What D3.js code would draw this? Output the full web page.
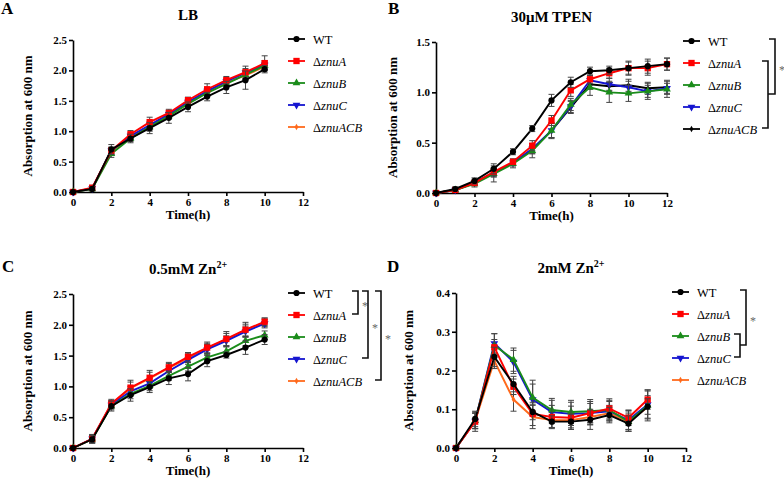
<!DOCTYPE html>
<html>
<head>
<meta charset="utf-8">
<script src="https://cdn.jsdelivr.net/npm/d3@7"></script>
<style>
  body { margin: 0; background: #fff; }
  svg text { font-family: "Times New Roman", "Liberation Serif", "DejaVu Serif", serif !important; }
</style>
</head>
<body>
<svg id="fig" width="784" height="485" font-family="Liberation Serif, serif"></svg>
<script>
// strains and colours
var strains = ["WT", "ΔznuA", "ΔznuB", "ΔznuC", "ΔznuACB"];
var hours10 = [0, 1, 2, 3, 4, 5, 6, 7, 8, 9, 10];
var hours12 = [0, 1, 2, 3, 4, 5, 6, 7, 8, 9, 10, 11, 12];
var xTicks = [0, 2, 4, 6, 8, 10, 12];

// A: LB
var lbWT   = [0.00, 0.05, 0.70, 0.88, 1.05, 1.22, 1.40, 1.57, 1.72, 1.84, 2.02];
var lbA    = [0.00, 0.07, 0.68, 0.95, 1.15, 1.30, 1.51, 1.69, 1.84, 1.97, 2.12];
var lbB    = [0.00, 0.05, 0.63, 0.88, 1.07, 1.25, 1.45, 1.63, 1.78, 1.93, 2.08];
var lbC    = [0.00, 0.06, 0.68, 0.92, 1.10, 1.28, 1.48, 1.66, 1.82, 1.96, 2.09];
var lbACB  = [0.00, 0.06, 0.67, 0.90, 1.08, 1.26, 1.47, 1.64, 1.80, 1.92, 2.06];
var lbWTErr  = [0.01, 0.03, 0.08, 0.07, 0.09, 0.09, 0.08, 0.07, 0.10, 0.15, 0.06];
var lbAErr   = [0.01, 0.04, 0.06, 0.06, 0.08, 0.06, 0.05, 0.09, 0.06, 0.10, 0.12];
var lbBErr   = [0.01, 0.03, 0.06, 0.05, 0.07, 0.05, 0.05, 0.06, 0.05, 0.07, 0.06];
var lbCErr   = [0.01, 0.03, 0.05, 0.05, 0.06, 0.05, 0.05, 0.06, 0.05, 0.07, 0.07];
var lbACBErr = [0.01, 0.03, 0.05, 0.05, 0.06, 0.05, 0.05, 0.06, 0.05, 0.07, 0.07];

// B: 30uM TPEN
var tpWT   = [0.00, 0.04, 0.12, 0.24, 0.41, 0.64, 0.92, 1.10, 1.21, 1.22, 1.24, 1.26, 1.28];
var tpA    = [0.00, 0.03, 0.10, 0.21, 0.31, 0.47, 0.72, 1.02, 1.13, 1.19, 1.24, 1.24, 1.28];
var tpB    = [0.00, 0.03, 0.09, 0.19, 0.29, 0.42, 0.62, 0.88, 1.05, 1.00, 0.99, 1.01, 1.03];
var tpC    = [0.00, 0.03, 0.10, 0.20, 0.30, 0.44, 0.62, 0.86, 1.12, 1.08, 1.05, 1.01, 1.04];
var tpACB  = [0.00, 0.03, 0.10, 0.20, 0.30, 0.43, 0.62, 0.85, 1.08, 1.06, 1.07, 1.04, 1.05];
var tpWTErr  = [0.00, 0.02, 0.03, 0.05, 0.03, 0.03, 0.06, 0.05, 0.04, 0.04, 0.06, 0.07, 0.06];
var tpAErr   = [0.00, 0.02, 0.02, 0.04, 0.03, 0.05, 0.05, 0.06, 0.04, 0.05, 0.07, 0.07, 0.06];
var tpBErr   = [0.00, 0.02, 0.03, 0.08, 0.04, 0.07, 0.07, 0.06, 0.08, 0.10, 0.08, 0.08, 0.08];
var tpCErr   = [0.00, 0.02, 0.02, 0.04, 0.03, 0.05, 0.08, 0.06, 0.05, 0.06, 0.06, 0.06, 0.05];
var tpACBErr = [0.00, 0.02, 0.02, 0.04, 0.03, 0.04, 0.07, 0.06, 0.05, 0.05, 0.06, 0.06, 0.07];

// C: 0.5mM Zn2+
var z05WT  = [0.00, 0.14, 0.68, 0.86, 0.99, 1.13, 1.20, 1.41, 1.51, 1.63, 1.76];
var z05A   = [0.00, 0.15, 0.72, 0.98, 1.14, 1.31, 1.48, 1.63, 1.77, 1.92, 2.05];
var z05B   = [0.00, 0.14, 0.68, 0.88, 1.01, 1.17, 1.32, 1.47, 1.57, 1.74, 1.83];
var z05C   = [0.00, 0.15, 0.70, 0.92, 1.05, 1.25, 1.43, 1.60, 1.74, 1.89, 2.02];
var z05ACB = [0.00, 0.15, 0.71, 0.97, 1.13, 1.30, 1.46, 1.62, 1.76, 1.91, 2.04];
var z05WTErr  = [0.00, 0.06, 0.08, 0.10, 0.09, 0.10, 0.11, 0.09, 0.05, 0.11, 0.08];
var z05AErr   = [0.00, 0.07, 0.07, 0.12, 0.12, 0.08, 0.07, 0.09, 0.12, 0.12, 0.06];
var z05BErr   = [0.00, 0.06, 0.06, 0.08, 0.08, 0.07, 0.07, 0.07, 0.07, 0.08, 0.07];
var z05CErr   = [0.00, 0.06, 0.06, 0.08, 0.08, 0.07, 0.07, 0.08, 0.08, 0.09, 0.07];
var z05ACBErr = [0.00, 0.06, 0.06, 0.10, 0.10, 0.07, 0.07, 0.08, 0.10, 0.10, 0.07];

// D: 2mM Zn2+
var z2WT  = [0.000, 0.075, 0.235, 0.165, 0.093, 0.068, 0.068, 0.073, 0.085, 0.063, 0.107];
var z2A   = [0.000, 0.068, 0.260, 0.158, 0.088, 0.080, 0.078, 0.090, 0.102, 0.078, 0.125];
var z2B   = [0.000, 0.070, 0.265, 0.228, 0.130, 0.098, 0.093, 0.095, 0.098, 0.068, 0.110];
var z2C   = [0.000, 0.070, 0.270, 0.222, 0.125, 0.093, 0.088, 0.090, 0.095, 0.072, 0.112];
var z2ACB = [0.000, 0.070, 0.225, 0.125, 0.080, 0.072, 0.072, 0.080, 0.090, 0.068, 0.105];
var z2WTErr  = [0.000, 0.020, 0.025, 0.020, 0.020, 0.015, 0.020, 0.025, 0.020, 0.020, 0.020];
var z2AErr   = [0.000, 0.025, 0.020, 0.020, 0.030, 0.030, 0.030, 0.025, 0.025, 0.020, 0.025];
var z2BErr   = [0.000, 0.020, 0.030, 0.030, 0.045, 0.030, 0.030, 0.030, 0.025, 0.025, 0.040];
var z2CErr   = [0.000, 0.020, 0.025, 0.030, 0.040, 0.030, 0.030, 0.030, 0.025, 0.025, 0.035];
var z2ACBErr = [0.000, 0.020, 0.020, 0.030, 0.030, 0.020, 0.020, 0.020, 0.020, 0.020, 0.030];

var colors = ["#000000", "#ff0000", "#1a8c1a", "#1515d0", "#ff6a1c"];
var colorsB = ["#000000", "#ff0000", "#1a8c1a", "#1515d0", "#000000"];
var symbols = [
    { type: d3.symbolCircle, size: 30, rot: 0 },
    { type: d3.symbolSquare, size: 40, rot: 0 },
    { type: d3.symbolTriangle, size: 26, rot: 0 },
    { type: d3.symbolTriangle, size: 26, rot: 180 },
    { type: d3.symbolDiamond, size: 12, rot: 0 }
];

var svg = d3.select("#fig");
var rowGap = 22;
var serif = "'Times New Roman', 'Liberation Serif', serif";

var panels = [
    { letter: "A", lx: 1, ly: 14, title: "LB", sup: "", x0: 73, x1: 303, y0: 192, y1: 40,
      yMax: 2.5, yTicks: [0, 0.5, 1.0, 1.5, 2.0, 2.5], fmt: ".1f", hours: hours10,
      values: [lbWT, lbA, lbB, lbC, lbACB], errs: [lbWTErr, lbAErr, lbBErr, lbCErr, lbACBErr],
      colors: colors, legX: 288, labelOff: 41, brackets: [] },
    { letter: "B", lx: 388, ly: 14, title: "30μM TPEN", sup: "", x0: 436, x1: 667, y0: 193, y1: 42,
      yMax: 1.5, yTicks: [0, 0.5, 1.0, 1.5], fmt: ".1f", hours: hours12,
      values: [tpWT, tpA, tpB, tpC, tpACB], errs: [tpWTErr, tpAErr, tpBErr, tpCErr, tpACBErr],
      colors: colorsB, legX: 683, labelOff: 39,
      brackets: [
        { from: 1, to: 4, x: 768, star: false },
        { from: 0, toMid: [1, 4], x: 775, innerX: 768, star: true }
      ] },
    { letter: "C", lx: 2, ly: 272, title: "0.5mM Zn", sup: "2+", x0: 73, x1: 303, y0: 448, y1: 294,
      yMax: 2.5, yTicks: [0, 0.5, 1.0, 1.5, 2.0, 2.5], fmt: ".1f", hours: hours10,
      values: [z05WT, z05A, z05B, z05C, z05ACB], errs: [z05WTErr, z05AErr, z05BErr, z05CErr, z05ACBErr],
      colors: colors, legX: 288, labelOff: 41,
      brackets: [
        { from: 0, to: 1, x: 358, star: true },
        { from: 0, to: 3, x: 368, star: true },
        { from: 0, to: 4, x: 381, star: true }
      ] },
    { letter: "D", lx: 387, ly: 272, title: "2mM Zn", sup: "2+", x0: 456, x1: 686, y0: 448, y1: 293,
      yMax: 0.4, yTicks: [0, 0.1, 0.2, 0.3, 0.4], fmt: ".1f", hours: hours10,
      values: [z2WT, z2A, z2B, z2C, z2ACB], errs: [z2WTErr, z2AErr, z2BErr, z2CErr, z2ACBErr],
      colors: colors, legX: 672, labelOff: 43,
      brackets: [
        { from: 2, to: 3, x: 740, star: false },
        { from: 0, toMid: [2, 3], x: 746, innerX: 740, star: true }
      ] }
];

panels.forEach(drawPanel);

function drawPanel(p) {
    var g = svg.append("g");
    var xScale = d3.scaleLinear().domain([0, 12]).range([p.x0, p.x1]);
    var yScale = d3.scaleLinear().domain([0, p.yMax]).range([p.y0, p.y1]);

    // panel letter
    g.append("text")
        .attr("x", p.lx).attr("y", p.ly)
        .style("font-family", serif)
        .style("font-size", "17px").style("font-weight", "bold")
        .text(p.letter);

    // title
    var t = g.append("text")
        .attr("x", (p.x0 + p.x1) / 2).attr("y", p.y1 - 20)
        .attr("text-anchor", "middle")
        .style("font-family", serif)
        .style("font-size", "15px").style("font-weight", "bold")
        .text(p.title);
    if (p.sup) {
        t.append("tspan").attr("dy", "-6").style("font-size", "10px").text(p.sup);
    }

    // axes
    var xAxis = g.append("g")
        .attr("transform", "translate(0," + p.y0 + ")")
        .call(d3.axisBottom(xScale).tickValues(xTicks).tickSize(4).tickSizeOuter(0).tickPadding(2));
    var yAxis = g.append("g")
        .attr("transform", "translate(" + p.x0 + ",0)")
        .call(d3.axisLeft(yScale).tickValues(p.yTicks).tickFormat(d3.format(p.fmt))
            .tickSize(4).tickSizeOuter(0).tickPadding(2));
    [xAxis, yAxis].forEach(function(a) {
        a.attr("font-family", null);
        a.select(".domain").attr("stroke-width", 1.6);
        a.selectAll(".tick line").attr("stroke-width", 1.6);
        a.selectAll(".tick text")
            .style("font-family", serif)
            .style("font-size", "11px").style("font-weight", "bold");
    });

    // axis labels
    g.append("text")
        .attr("x", (p.x0 + p.x1) / 2).attr("y", p.y0 + 27)
        .attr("text-anchor", "middle")
        .style("font-family", serif)
        .style("font-size", "13px").style("font-weight", "bold")
        .text("Time(h)");
    g.append("text")
        .attr("transform", "translate(" + (p.x0 - p.labelOff) + "," + ((p.y0 + p.y1) / 2) + ") rotate(-90)")
        .attr("text-anchor", "middle")
        .style("font-family", serif)
        .style("font-size", "13px").style("font-weight", "bold")
        .text("Absorption at 600 nm");

    // series, drawn from the last one to WT so WT sits on top
    var line = d3.line()
        .x(function(d) { return xScale(d.t); })
        .y(function(d) { return yScale(d.v); });

    for (var s = strains.length - 1; s >= 0; s--) {
        var pts = p.hours.map(function(h, i) {
            return { t: h, v: p.values[s][i], e: p.errs[s][i] };
        });
        var sg = g.append("g");
        sg.append("path")
            .datum(pts)
            .attr("fill", "none")
            .attr("stroke", p.colors[s])
            .attr("stroke-width", 1.9)
            .attr("d", line);

        var eb = sg.selectAll(".err")
            .data(pts.filter(function(d) { return d.e > 0.004; }))
            .enter().append("g")
            .attr("stroke", "#444")
            .attr("stroke-width", 1);
        eb.append("line")
            .attr("x1", function(d) { return xScale(d.t); })
            .attr("x2", function(d) { return xScale(d.t); })
            .attr("y1", function(d) { return yScale(d.v - d.e); })
            .attr("y2", function(d) { return yScale(d.v + d.e); });
        [-1, 1].forEach(function(sign) {
            eb.append("line")
                .attr("x1", function(d) { return xScale(d.t) - 3; })
                .attr("x2", function(d) { return xScale(d.t) + 3; })
                .attr("y1", function(d) { return yScale(d.v + sign * d.e); })
                .attr("y2", function(d) { return yScale(d.v + sign * d.e); });
        });

        var sym = symbols[s];
        sg.selectAll(".pt")
            .data(pts)
            .enter().append("path")
            .attr("d", d3.symbol().type(sym.type).size(sym.size))
            .attr("transform", function(d) {
                return "translate(" + xScale(d.t) + "," + yScale(d.v) + ") rotate(" + sym.rot + ")";
            })
            .attr("fill", p.colors[s]);
    }

    // legend
    var rowY = function(i) { return p.y1 - 1 + i * rowGap; };
    strains.forEach(function(name, i) {
        var ly = rowY(i);
        g.append("line")
            .attr("x1", p.legX).attr("x2", p.legX + 17)
            .attr("y1", ly).attr("y2", ly)
            .attr("stroke", p.colors[i]).attr("stroke-width", 1.8);
        var sym = symbols[i];
        g.append("path")
            .attr("d", d3.symbol().type(sym.type).size(sym.size))
            .attr("transform", "translate(" + (p.legX + 8.5) + "," + ly + ") rotate(" + sym.rot + ")")
            .attr("fill", p.colors[i]);
        var txt = g.append("text")
            .attr("x", p.legX + 25).attr("y", ly + 4.5)
            .style("font-family", serif)
            .style("font-size", "12.5px");
        if (name === "WT") {
            txt.text(name);
        } else {
            txt.append("tspan").text("Δ");
            txt.append("tspan").style("font-style", "italic").text(name.slice(1));
        }
    });

    // significance brackets
    p.brackets.forEach(function(b) {
        var top = rowY(b.from) - 2;
        var bottom, botX;
        if (b.toMid) {
            bottom = (rowY(b.toMid[0]) + rowY(b.toMid[1])) / 2 - 2;
            botX = b.innerX;
        } else {
            bottom = rowY(b.to) - 1;
            botX = b.x - 6;
        }
        g.append("path")
            .attr("d", "M" + (b.x - 6) + "," + top + "H" + b.x + "V" + bottom + "H" + botX)
            .attr("fill", "none")
            .attr("stroke", "#111")
            .attr("stroke-width", 1.6);
        if (b.star) {
            g.append("text")
                .attr("x", b.x + 4).attr("y", (top + bottom) / 2 + 7)
                .style("font-family", serif)
                .style("font-size", "12px")
                .attr("fill", "#666")
                .text("*");
        }
    });
}
</script>
</body>
</html>
